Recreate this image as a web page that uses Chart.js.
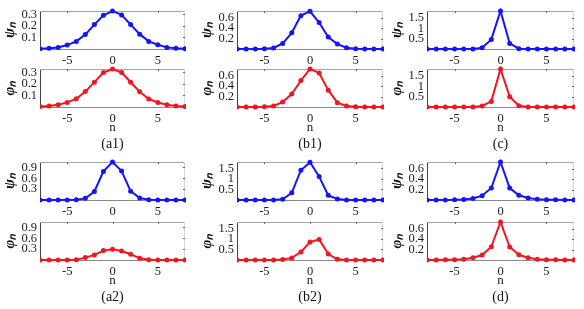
<!DOCTYPE html>
<html>
<head>
<meta charset="utf-8">
<script src="https://cdn.jsdelivr.net/npm/chart.js@4.4.1/dist/chart.umd.min.js"></script>
<style>
    body { margin: 0; background: #fff; }
    #fig { position: relative; width: 584px; height: 309px; overflow: hidden; font-family: "Liberation Serif", serif; }
    #fig canvas { position: absolute; }
    .tag { position: absolute; width: 60px; margin-left: -30px; text-align: center; font-size: 14px; line-height: 16px; color: #111; }
</style>
</head>
<body>
<div id="fig"></div>
<script>
// lattice sites
const sites = [-8, -7, -6, -5, -4, -3, -2, -1, 0, 1, 2, 3, 4, 5, 6, 7, 8];
const xTicks = [-5, 0, 5];

// amplitudes, one array per sub-plot
const a1Psi = [0.002, 0.006, 0.014, 0.034, 0.066, 0.126, 0.212, 0.293, 0.33, 0.296, 0.212, 0.129, 0.066, 0.037, 0.014, 0.006, 0.002];
const a1Phi = [0.004, 0.009, 0.02, 0.04, 0.071, 0.134, 0.216, 0.299, 0.33, 0.3, 0.215, 0.133, 0.07, 0.039, 0.019, 0.009, 0.004];
const b1Psi = [0.001, 0.001, 0.002, 0.004, 0.019, 0.108, 0.311, 0.641, 0.725, 0.508, 0.229, 0.095, 0.025, 0.004, 0.002, 0.001, 0.001];
const b1Phi = [0.001, 0.001, 0.002, 0.004, 0.019, 0.095, 0.248, 0.508, 0.73, 0.654, 0.324, 0.083, 0.019, 0.004, 0.002, 0.001, 0.001];
const cPsi = [0, 0, 0, 0, 0, 0.002, 0.064, 0.467, 1.85, 0.273, 0.016, 0.001, 0, 0, 0, 0, 0];
const cPhi = [0, 0, 0, 0, 0, 0.001, 0.05, 0.273, 1.85, 0.5, 0.064, 0.002, 0, 0, 0, 0, 0];
const a2Psi = [0, 0, 0, 0, 0.005, 0.045, 0.235, 0.79, 1.05, 0.8, 0.245, 0.054, 0.005, 0, 0, 0, 0];
const a2Phi = [0.002, 0.002, 0.002, 0.002, 0.008, 0.066, 0.14, 0.26, 0.3, 0.25, 0.16, 0.047, 0.01, 0.002, 0.002, 0.002, 0.002];
const b2Psi = [0, 0, 0, 0, 0.003, 0.03, 0.34, 1.41, 1.79, 1.11, 0.22, 0.05, 0.005, 0, 0, 0, 0];
const b2Phi = [0, 0, 0, 0, 0.003, 0.02, 0.1, 0.38, 0.85, 0.97, 0.28, 0.03, 0.003, 0, 0, 0, 0];
const dPsi = [0.001, 0.001, 0.002, 0.003, 0.01, 0.03, 0.083, 0.23, 0.73, 0.23, 0.09, 0.038, 0.013, 0.006, 0.003, 0.001, 0.001];
const dPhi = [0.001, 0.002, 0.003, 0.005, 0.013, 0.044, 0.095, 0.254, 0.73, 0.25, 0.1, 0.044, 0.015, 0.006, 0.003, 0.001, 0.001];

// y limits and ticks per panel
const panelNames = ["(a1)", "(b1)", "(c)", "(a2)", "(b2)", "(d)"];
const panelYMax = [0.33, 0.73, 1.85, 1.05, 1.8, 0.73];
const panelYTicks = [[0.1, 0.2, 0.3], [0.2, 0.4, 0.6], [0.5, 1, 1.5], [0.3, 0.6, 0.9], [0.5, 1, 1.5], [0.2, 0.4, 0.6]];
const panelPsi = [a1Psi, b1Psi, cPsi, a2Psi, b2Psi, dPsi];
const panelPhi = [a1Phi, b1Phi, cPhi, a2Phi, b2Phi, dPhi];

const colLeft = [40, 237, 427];
const colRight = [185, 383, 574];
const psiTop = [11, 162];
const phiTop = [69, 222];
const plotH = 38;
const padTop = 8;
const padRight = 6;
const yAxisW = 40;

const BLUE = "rgb(20, 20, 255)";
const RED = "rgb(242, 22, 32)";
const FONT = "'Liberation Serif', 'Times New Roman', serif";

const figEl = document.getElementById("fig");

// MATLAB-like box: grey top/right edges with small inward ticks
const boxPlugin = {
    id: "box",
    beforeDatasetsDraw(chart) {
        const { ctx, chartArea: a, scales } = chart;
        ctx.save();
        ctx.lineWidth = 1;
        ctx.strokeStyle = "#a5a5a5";
        ctx.beginPath();
        ctx.moveTo(a.left, a.top + 0.5);
        ctx.lineTo(a.right, a.top + 0.5);
        ctx.stroke();
        ctx.strokeStyle = "#d6d6d6";
        ctx.beginPath();
        ctx.moveTo(a.right - 0.5, a.top);
        ctx.lineTo(a.right - 0.5, a.bottom);
        ctx.stroke();
        ctx.strokeStyle = "#666";
        ctx.beginPath();
        scales.y.ticks.forEach((t) => {
            const py = Math.round(scales.y.getPixelForValue(t.value)) + 0.5;
            ctx.moveTo(a.right, py);
            ctx.lineTo(a.right - 2, py);
        });
        scales.x.ticks.forEach((t) => {
            const px = Math.round(scales.x.getPixelForValue(t.value)) + 0.5;
            ctx.moveTo(px, a.top);
            ctx.lineTo(px, a.top + 2);
        });
        ctx.stroke();
        ctx.restore();
    },
};

function makeChart(left, top, width, values, color, yMax, yTicks, yLabel, showN) {
    const xh = showN ? 28 : 16;
    const canvas = document.createElement("canvas");
    canvas.width = width + yAxisW + padRight;
    canvas.height = padTop + plotH + xh;
    canvas.style.left = `${left - yAxisW}px`;
    canvas.style.top = `${top - padTop}px`;
    figEl.appendChild(canvas);

    const tickFont = { family: FONT, size: 12.5 };
    return new Chart(canvas.getContext("2d"), {
        type: "line",
        data: {
            datasets: [
                {
                    data: sites.map((s, i) => ({ x: s, y: values[i] })),
                    borderColor: color,
                    backgroundColor: color,
                    borderWidth: 2,
                    pointRadius: 2.5,
                    pointHoverRadius: 2.5,
                    pointBorderWidth: 0,
                    tension: 0,
                    clip: { left: 0, top: 4, right: 1, bottom: 4 },
                },
            ],
        },
        options: {
            responsive: false,
            animation: false,
            events: [],
            layout: { padding: { top: padTop, right: padRight, left: 0, bottom: 0 } },
            plugins: { legend: { display: false }, tooltip: { enabled: false } },
            scales: {
                x: {
                    type: "linear",
                    min: -8,
                    max: 8,
                    afterBuildTicks: (s) => { s.ticks = xTicks.map((v) => ({ value: v })); },
                    afterFit: (s) => { s.height = xh; s.paddingLeft = 0; s.paddingRight = 0; },
                    grid: { display: false, drawTicks: false },
                    border: { color: "#8a8a8a", width: 1 },
                    ticks: { padding: 4, font: tickFont, color: "#1a1a1a", maxRotation: 0, callback: (v) => String(v) },
                    title: { display: showN, text: "n", font: { family: FONT, size: 13 }, color: "#1a1a1a", padding: 0 },
                },
                y: {
                    min: 0,
                    max: yMax,
                    afterBuildTicks: (s) => { s.ticks = yTicks.map((v) => ({ value: v })); },
                    afterFit: (s) => { s.width = yAxisW; s.paddingTop = 0; s.paddingBottom = 0; },
                    grid: { display: false, drawTicks: false },
                    border: { color: "#444", width: 1 },
                    ticks: { padding: 3, font: tickFont, color: "#1a1a1a", callback: (v) => String(+v.toFixed(2)) },
                    title: {
                        display: true,
                        text: yLabel,
                        font: { family: FONT, size: 15, style: "italic", weight: "bold" },
                        color: "#111",
                        padding: { top: 1, bottom: 0 },
                    },
                },
            },
        },
        plugins: [boxPlugin],
    });
}

panelNames.forEach((name, i) => {
    const col = i % 3;
    const row = Math.floor(i / 3);
    const left = colLeft[col];
    const width = colRight[col] - colLeft[col];
    makeChart(left, psiTop[row], width, panelPsi[i], BLUE, panelYMax[i], panelYTicks[i], "ψₙ", false);
    makeChart(left, phiTop[row], width, panelPhi[i], RED, panelYMax[i], panelYTicks[i], "φₙ", true);

    const tag = document.createElement("div");
    tag.className = "tag";
    tag.textContent = name;
    tag.style.left = `${(colLeft[col] + colRight[col]) / 2}px`;
    tag.style.top = `${(row === 0 ? 144 : 297) - 8}px`;
    figEl.appendChild(tag);
});
</script>
</body>
</html>
